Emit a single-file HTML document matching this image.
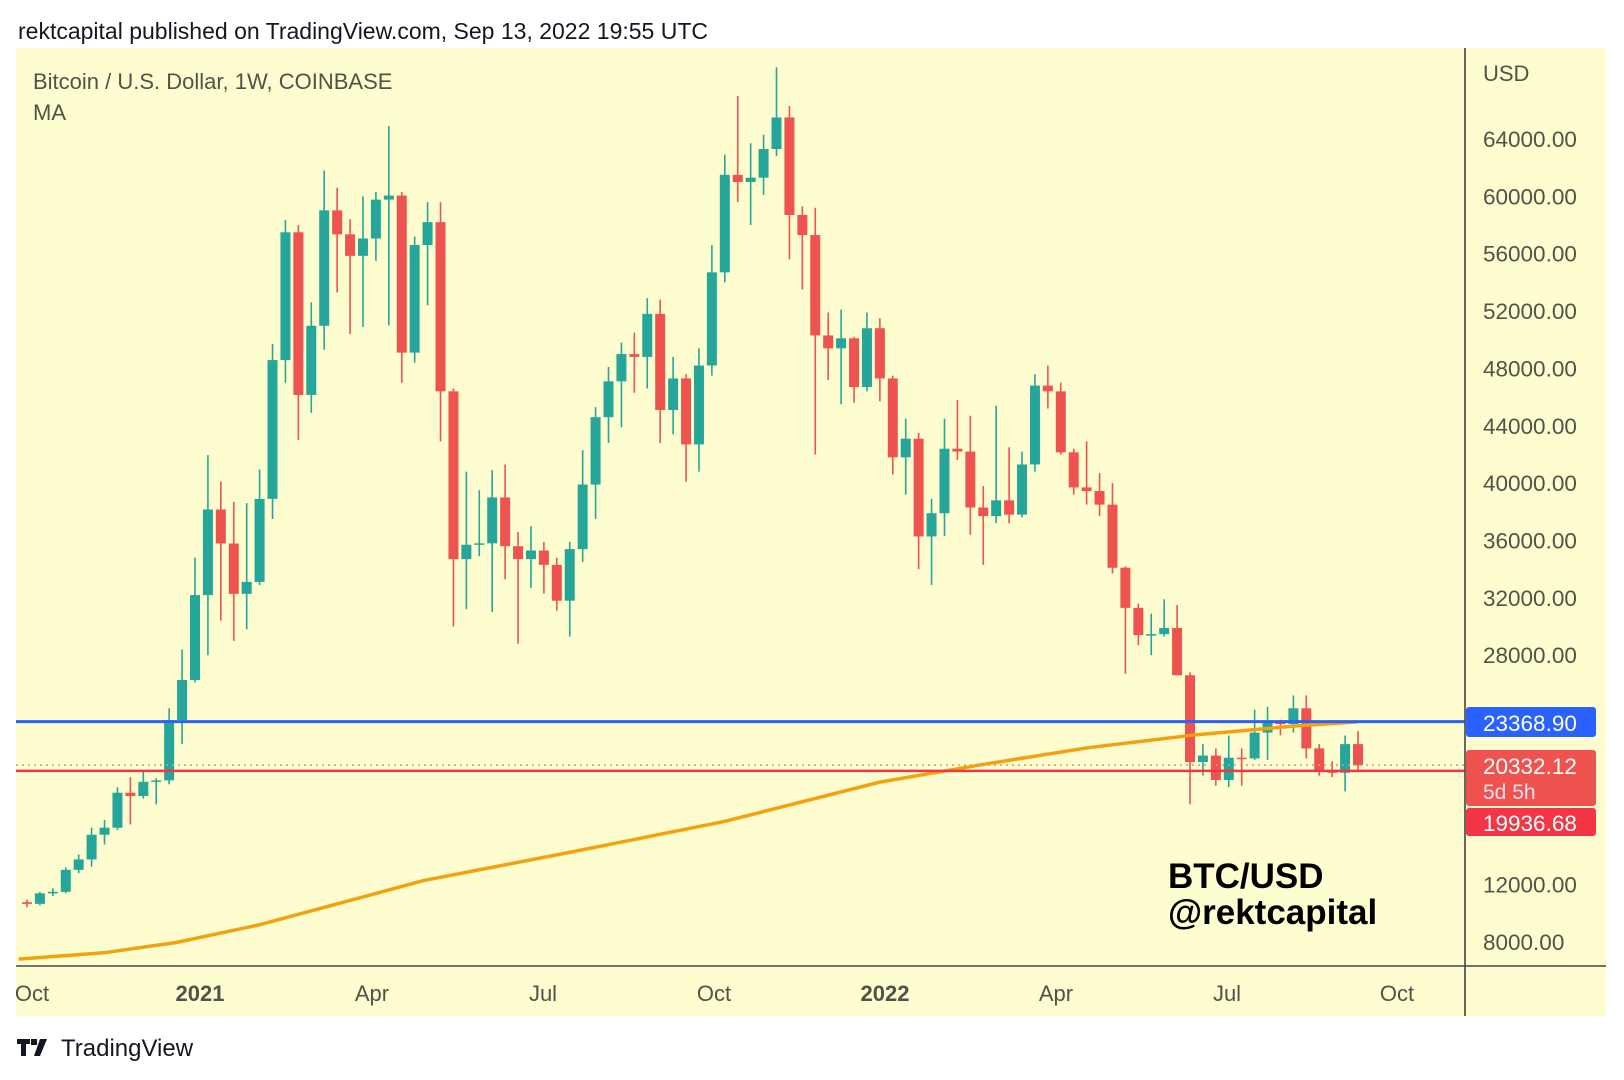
<!DOCTYPE html>
<html><head><meta charset="utf-8"><style>
body{margin:0;background:#fff;width:1624px;height:1080px;overflow:hidden;font-family:"Liberation Sans",sans-serif}
svg{position:absolute;left:0;top:0}
</style></head><body>
<svg id="s" width="1624" height="1080" xmlns="http://www.w3.org/2000/svg"></svg>
<script>
const d=[[10775,10950,10430,10660],[10660,11500,10550,11390],[11390,11750,11200,11500],[11500,13200,11400,13030],[13030,14100,12800,13760],[13760,15970,13250,15480],[15480,16500,14800,15970],[15970,18800,15800,18410],[18410,19500,16200,18180],[18180,19920,18000,19170],[19170,19420,17600,19270],[19270,24300,19000,23480],[23480,28400,21800,26270],[26270,34800,26100,32190],[32190,41950,28000,38160],[38160,40100,30400,35790],[35790,38700,29000,32280],[32280,38600,29800,33110],[33110,40950,32900,38900],[38900,49700,37500,48580],[48580,58350,47000,57490],[57490,58000,43000,46150],[46150,52600,44900,50970],[50970,61800,49300,59020],[59020,60600,53300,57350],[57350,58400,50400,55850],[55850,60000,50900,57060],[57060,60300,55500,59770],[59770,64900,51000,60050],[60050,60300,47000,49100],[49100,57200,48400,56600],[56600,59600,52400,58200],[58200,59600,42900,46400],[46400,46600,30000,34700],[34700,40800,31200,35700],[35700,39500,34900,35800],[35800,40900,31000,39000],[39000,41300,33300,35600],[35600,36600,28800,34700],[34700,37000,32700,35300],[35300,35900,32300,34300],[34300,34800,31100,31800],[31800,35900,29300,35400],[35400,42300,34500,39900],[39900,45300,37500,44600],[44600,48100,42800,47100],[47100,49800,43900,49000],[49000,50500,46300,48800],[48800,52900,46600,51800],[51800,52800,42800,45100],[45100,48800,43400,47300],[47300,47600,40100,42700],[42700,49400,40800,48200],[48200,56600,47500,54700],[54700,62900,54000,61500],[61500,67000,59600,61000],[61000,63700,58000,61300],[61300,64300,60100,63300],[63300,69000,62800,65500],[65500,66300,55600,58700],[58700,59300,53500,57300],[57300,59200,42000,50300],[50300,51900,47200,49400],[49400,52100,45500,50100],[50100,50200,45600,46700],[46700,51900,46400,50800],[50800,51500,45700,47300],[47300,47500,40600,41800],[41800,44500,39200,43100],[43100,43500,34000,36280],[36280,38900,32900,37900],[37900,44500,36300,42400],[42400,45800,41600,42200],[42200,44700,36400,38300],[38300,39800,34300,37700],[37700,45400,37200,38800],[38800,42500,37200,37800],[37800,42200,37600,41300],[41300,47600,40800,46800],[46800,48200,45200,46400],[46400,47000,42000,42150],[42150,42400,39200,39700],[39700,42900,38500,39450],[39450,40700,37700,38500],[38500,40000,33700,34100],[34100,34200,26700,31300],[31300,31600,28700,29400],[29400,30900,28000,29470],[29470,31900,29300,29900],[29900,31500,26600,26600],[26600,26800,17600,20550],[20550,21800,19600,21000],[21000,21500,18900,19300],[19300,22400,18800,20850],[20850,21500,18900,20800],[20800,24200,20700,22600],[22600,24400,20700,23300],[23300,23500,22400,23200],[23200,25200,22600,24300],[24300,25200,20800,21500],[21500,21800,19600,20000],[20000,20600,19500,19800],[19800,22400,18500,21800],[21800,22700,19900,20330]];
const Y=p=>942-(p-8000)/4000*57.36;
let s='';
s+='<rect x="16" y="48" width="1590" height="968" fill="#fdfdd0"/>';
s+='<text x="18" y="39" font-size="23" fill="#131722">rektcapital published on TradingView.com, Sep 13, 2022 19:55 UTC</text>';
s+='<text x="33" y="89" font-size="22" fill="#50534a">Bitcoin / U.S. Dollar, 1W, COINBASE</text><text x="33" y="120" font-size="22" fill="#50534a">MA</text>';
const n=d.length;const x0=27,x1=1358,dx=(x1-x0)/(n-1);
d.forEach((c,i)=>{const x=x0+i*dx;const up=c[3]>=c[0];const col=up?'#26a69a':'#ef5350';
s+=`<line x1="${x}" x2="${x}" y1="${Y(c[1])}" y2="${Y(c[2])}" stroke="${col}" stroke-width="1.6"/>`;
const t=Y(Math.max(c[0],c[3])),b=Y(Math.min(c[0],c[3]));s+=`<rect x="${x-5}" y="${t}" width="10" height="${Math.max(b-t,1.5)}" fill="${col}"/>`;});
const ma=[[18,926],[100,920],[170,910],[250,893],[410,850],[550,823],[700,793],[850,755],[950,738],[1050,722],[1150,710],[1250,701],[1311,697]].map(p=>(p[0]*1.0357).toFixed(1)+','+(p[1]*1.0357).toFixed(1)).join(' ');
s+=`<polyline points="${ma}" fill="none" stroke="#f2a20e" stroke-width="3.5" stroke-linejoin="round"/>`;
s+=`<line x1="16" x2="1465" y1="${Y(23368.9)}" y2="${Y(23368.9)}" stroke="#2962ff" stroke-width="3"/>`;
s+=`<line x1="16" x2="1465" y1="${Y(19936.68)}" y2="${Y(19936.68)}" stroke="#f23645" stroke-width="2.5"/>`;
s+=`<line x1="16" x2="1465" y1="${Y(20332)}" y2="${Y(20332)}" stroke="#c98" stroke-width="1.5" stroke-dasharray="2,4"/>`;
s+='<line x1="1465" x2="1465" y1="48" y2="1016" stroke="#444" stroke-width="1.6"/><line x1="16" x2="1606" y1="966" y2="966" stroke="#444" stroke-width="1.6"/>';
s+='<text x="1483" y="81" font-size="22" fill="#50534a">USD</text>';
for(let p=64000;p>=8000;p-=4000){if(p>=16000&&p<=24000)continue;s+=`<text x="1483" y="${Y(p)+8}" font-size="22.5" fill="#50534a">${p}.00</text>`;}
s+='<rect x="1466" y="707" width="130" height="30" rx="3" fill="#2962ff"/><text x="1483" y="731" font-size="22.5" fill="#fff">23368.90</text>';
s+='<rect x="1466" y="750" width="130" height="56" rx="3" fill="#ef5350"/><text x="1483" y="774" font-size="22.5" fill="#fff">20332.12</text><text x="1483" y="799" font-size="21" fill="#fde">5d 5h</text>';
s+='<rect x="1466" y="808" width="130" height="28" rx="3" fill="#f23645"/><text x="1483" y="831" font-size="22.5" fill="#fff">19936.68</text>';
[['Oct',32,0],['2021',200,1],['Apr',372,0],['Jul',543,0],['Oct',714,0],['2022',885,1],['Apr',1056,0],['Jul',1227,0],['Oct',1397,0]].forEach(l=>{s+=`<text x="${l[1]}" y="1001" font-size="22" text-anchor="middle" fill="#50534a" ${l[2]?'font-weight="bold"':''}>${l[0]}</text>`;});
s+='<rect x="0" y="975" width="16" height="40" fill="#fff"/>';
s+='<text x="1168" y="888" font-size="35" font-weight="bold" fill="#000">BTC/USD</text><text x="1168" y="924" font-size="35" font-weight="bold" fill="#000">@rektcapital</text>';
s+='<path d="M17 1039h13v5h-4v12h-5v-12h-4z M31 1039h6v6h-6z M40 1039h7l-7 17h-6z" fill="#131722"/><text x="61" y="1056" font-size="24" fill="#131722">TradingView</text>';
document.getElementById('s').innerHTML=s;
</script>
</body></html>
